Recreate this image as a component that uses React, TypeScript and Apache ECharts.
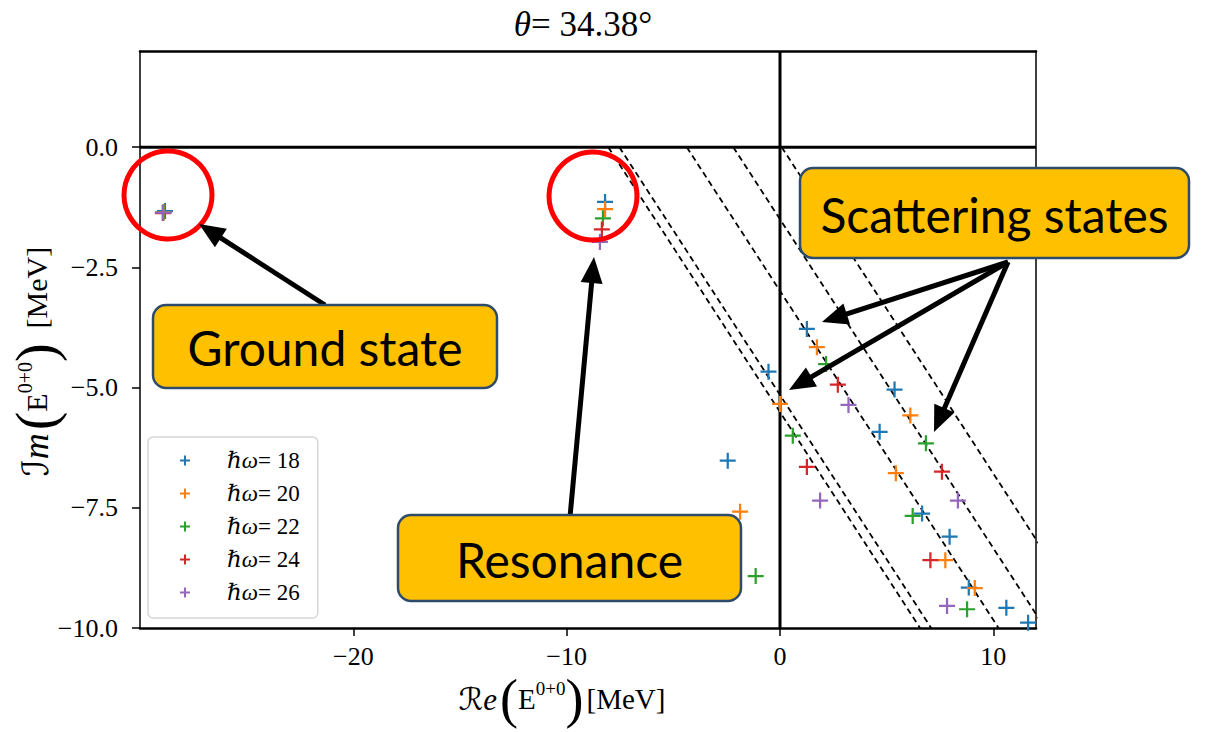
import React, { useEffect, useRef } from "react";
import * as echarts from "echarts";

const THETA_DEG = 34.38;
const X_TICKS = [-20, -10, 0, 10];
const Y_TICKS = [-10, -7.5, -5, -2.5, 0];
const SERIES_NAMES = ["ℏω= 18", "ℏω= 20", "ℏω= 22", "ℏω= 24", "ℏω= 26"];
const COLORS = ["#1f77b4", "#ff7f0e", "#2ca02c", "#d62728", "#9467bd"];

// eigenvalues [Re, Im] in MeV
const hw18 = [
  [-28.83, -1.33], [-8.2, -1.14],
  [1.26, -3.78], [-0.54, -4.67], [5.37, -5.04], [4.67, -5.92], [-2.45, -6.52],
  [6.66, -7.62], [7.95, -8.1], [8.85, -9.16], [10.61, -9.58], [11.63, -9.89],
];
const hw20 = [
  [-28.88, -1.35], [-8.2, -1.29],
  [1.73, -4.16], [0.0, -5.34], [6.11, -5.58], [5.43, -6.78], [-1.87, -7.58],
  [7.75, -8.59], [9.13, -9.17],
];
const hw22 = [
  [-28.9, -1.36], [-8.3, -1.48],
  [2.16, -4.51], [0.6, -6.0], [6.84, -6.16], [6.22, -7.67], [-1.14, -8.92], [8.77, -9.61],
];
const hw24 = [
  [-28.93, -1.37], [-8.35, -1.71],
  [2.71, -4.94], [1.26, -6.65], [7.59, -6.75], [7.05, -8.59],
];
const hw26 = [
  [-28.92, -1.36], [-8.44, -1.97],
  [3.21, -5.36], [1.88, -7.35], [8.34, -7.35], [7.83, -9.54],
];
const SERIES_DATA = [hw18, hw20, hw22, hw24, hw26];

// thresholds of the rotated continua (Re at Im = 0)
const THRESHOLDS = [-8.05, -7.53, -4.37, -2.19, 0.08];

const PLUS =
  "path://M-0.14,-1H0.14V-0.14H1V0.14H0.14V1H-0.14V0.14H-1V-0.14H-0.14Z";
const PLUS_LEG =
  "path://M-0.2,-1H0.2V-0.2H1V0.2H0.2V1H-0.2V0.2H-1V-0.2H-0.2Z";
const SERIF = "'Liberation Serif','DejaVu Serif','DejaVu Sans',serif";
const SANS = "Lato,'Open Sans','Noto Sans',sans-serif";

function fmt(v: number, digits: number) {
  const s = Math.abs(v).toFixed(digits);
  return v < 0 ? "−" + s : s;
}

function arrow(x1: number, y1: number, x2: number, y2: number) {
  const headLen = 26;
  const headW = 11;
  const dx = x2 - x1;
  const dy = y2 - y1;
  const L = Math.hypot(dx, dy);
  const ux = dx / L;
  const uy = dy / L;
  const bx = x2 - ux * headLen;
  const by = y2 - uy * headLen;
  const px = -uy;
  const py = ux;
  return [
    {
      type: "line",
      z: 100,
      shape: { x1, y1, x2: bx + ux * 3, y2: by + uy * 3 },
      style: { stroke: "#000", lineWidth: 5 },
    },
    {
      type: "polygon",
      z: 100,
      shape: {
        points: [
          [x2, y2],
          [bx + px * headW, by + py * headW],
          [bx - px * headW, by - py * headW],
        ],
      },
      style: { fill: "#000" },
    },
  ];
}

function box(x: number, y: number, w: number, h: number, label: string) {
  return [
    {
      type: "rect",
      z: 110,
      shape: { x, y, width: w, height: h, r: 13 },
      style: { fill: "#FFC000", stroke: "#2E4B6B", lineWidth: 2.5 },
    },
    {
      type: "text",
      z: 111,
      x: x + w / 2,
      y: y + h / 2 + 1,
      style: {
        text: label,
        fill: "#000",
        font: `48px ${SANS}`,
        align: "center",
        verticalAlign: "middle",
      },
    },
  ];
}

function circle(cx: number, cy: number, r: number) {
  return {
    type: "circle",
    z: 100,
    shape: { cx, cy, r },
    style: { fill: "none", stroke: "#FF0000", lineWidth: 5 },
  };
}

export default function App() {
  const ref = useRef<HTMLDivElement>(null);

  useEffect(() => {
    if (!ref.current) return;
    const chart = echarts.init(ref.current, null, { renderer: "svg" });
    const slope = Math.tan((THETA_DEG * Math.PI) / 180);

    const dashed = THRESHOLDS.map((t) => ({
      type: "line",
      data: [
        [t, 0],
        [t + 10 / slope, -10],
      ],
      symbol: "none",
      silent: true,
      z: 1,
      lineStyle: { color: "#000", width: 1.8, type: [6, 4] },
    }));

    const xRich = {
      c: { fontFamily: SERIF, fontSize: 31, fontStyle: "italic", color: "#000" },
      p: { fontFamily: SERIF, fontSize: 54, color: "#000" },
      n: { fontFamily: SERIF, fontSize: 29, color: "#000" },
      s: { fontFamily: SERIF, fontSize: 19, color: "#000", verticalAlign: "top", padding: [7, 0, 0, 0] },
    };
    const yRich = {
      c: { fontFamily: SERIF, fontSize: 36, fontStyle: "italic", color: "#000" },
      p: { fontFamily: SERIF, fontSize: 56, color: "#000" },
      n: { fontFamily: SERIF, fontSize: 30, color: "#000" },
      s: { fontFamily: SERIF, fontSize: 20, color: "#000", verticalAlign: "top", padding: [7, 0, 0, 0] },
    };

    const option: any = {
      animation: false,
      textStyle: { fontFamily: SERIF },
      title: {
        text: "{i|θ}{n|= 34.38°}",
        left: 578,
        top: 2,
        textAlign: "center",
        textStyle: {
          fontWeight: "normal",
          rich: {
            i: { fontFamily: SERIF, fontSize: 35, fontStyle: "italic", fontWeight: "normal", color: "#000" },
            n: { fontFamily: SERIF, fontSize: 35, fontWeight: "normal", color: "#000" },
          },
        },
      },
      grid: { left: 140, right: 178, top: 51, bottom: 104, containLabel: false, outerBoundsMode: "none" },
      legend: {
        data: SERIES_NAMES,
        orient: "vertical",
        left: 148,
        top: 437,
        padding: [12, 18, 14, 32],
        itemGap: 10,
        itemWidth: 10,
        itemHeight: 10,
        icon: PLUS_LEG,
        backgroundColor: "rgba(255,255,255,0.8)",
        borderColor: "#d6d6d6",
        borderWidth: 1.5,
        borderRadius: 5,
        formatter: (name: string) => "{i|ℏω}{n|" + name.slice(2) + "}",
        textStyle: {
          fontFamily: SERIF,
          fontSize: 23,
          color: "#000",
          lineHeight: 22,
          padding: [0, 0, 0, 32],
          rich: {
            i: { fontFamily: SERIF, fontSize: 23, fontStyle: "italic", color: "#000" },
            n: { fontFamily: SERIF, fontSize: 23, color: "#000" },
          },
        },
      },
      xAxis: [
        {
          type: "value",
          min: -30,
          max: 12,
          interval: 10,
          position: "bottom",
          name: "{c|ℛe} {p|(}{n|E}{s|0+0}{p|)} {n|[MeV]}",
          nameLocation: "middle",
          nameGap: 44,
          nameMoveOverlap: false,
          nameTextStyle: { rich: xRich, padding: [0, 52, 0, 0] },
          axisLine: { onZero: false, lineStyle: { color: "#000", width: 2.5 } },
          axisTick: { show: true, length: 8, customValues: X_TICKS, lineStyle: { color: "#000", width: 1.5 } },
          axisLabel: {
            customValues: X_TICKS,
            margin: 15,
            fontFamily: SERIF,
            fontSize: 26,
            color: "#000",
            formatter: (v: number) => fmt(v, 0),
          },
          splitLine: { show: false },
        },
        {
          type: "value",
          min: -30,
          max: 12,
          position: "top",
          axisLine: { onZero: false, lineStyle: { color: "#000", width: 2.5 } },
          axisTick: { show: false },
          axisLabel: { show: false },
          splitLine: { show: false },
        },
      ],
      yAxis: [
        {
          type: "value",
          min: -10,
          max: 2,
          interval: 2.5,
          position: "left",
          name: "{c|ℐm} {p|(}{n|E}{s|0+0}{p|)}     {n|[MeV]}",
          nameLocation: "middle",
          nameRotate: 90,
          nameGap: 76,
          nameMoveOverlap: false,
          nameTextStyle: { rich: yRich, padding: [0, 44, 0, 0] },
          axisLine: { onZero: false, lineStyle: { color: "#000", width: 1.5 } },
          axisTick: { show: true, length: 8, customValues: Y_TICKS, lineStyle: { color: "#000", width: 1.5 } },
          axisLabel: {
            customValues: Y_TICKS,
            margin: 22,
            fontFamily: SERIF,
            fontSize: 26,
            color: "#000",
            formatter: (v: number) => fmt(v, 1),
          },
          splitLine: { show: false },
        },
        {
          type: "value",
          min: -10,
          max: 2,
          position: "right",
          axisLine: { onZero: false, lineStyle: { color: "#000", width: 1.5 } },
          axisTick: { show: false },
          axisLabel: { show: false },
          splitLine: { show: false },
        },
      ],
      series: [
        ...dashed,
        {
          type: "line",
          data: [
            [0, -10],
            [0, 2],
          ],
          symbol: "none",
          silent: true,
          z: 2,
          lineStyle: { color: "#000", width: 3 },
        },
        {
          type: "line",
          data: [
            [-30, 0],
            [12, 0],
          ],
          symbol: "none",
          silent: true,
          z: 2,
          lineStyle: { color: "#000", width: 3 },
        },
        ...SERIES_DATA.map((d, i) => ({
          type: "scatter",
          name: SERIES_NAMES[i],
          data: d,
          symbol: PLUS,
          symbolSize: 16,
          z: 3 + i,
          itemStyle: { color: COLORS[i], opacity: 1 },
        })),
      ],
      graphic: [
        circle(168, 195, 44),
        circle(593, 196, 44),
        ...arrow(325, 305, 199, 224),
        ...arrow(570, 517, 594, 257),
        ...arrow(1008, 262, 822, 322),
        ...arrow(1008, 262, 789, 390),
        ...arrow(1008, 262, 934, 432),
        ...box(153, 305, 344, 83, "Ground state"),
        ...box(398, 515, 343, 86, "Resonance"),
        ...box(800, 168, 389, 90, "Scattering states"),
      ],
    };

    chart.setOption(option);
    return () => chart.dispose();
  }, []);

  return (
    <div
      ref={ref}
      style={{ position: "absolute", left: 0, top: 0, width: 1214, height: 732, background: "#fff" }}
    />
  );
}
